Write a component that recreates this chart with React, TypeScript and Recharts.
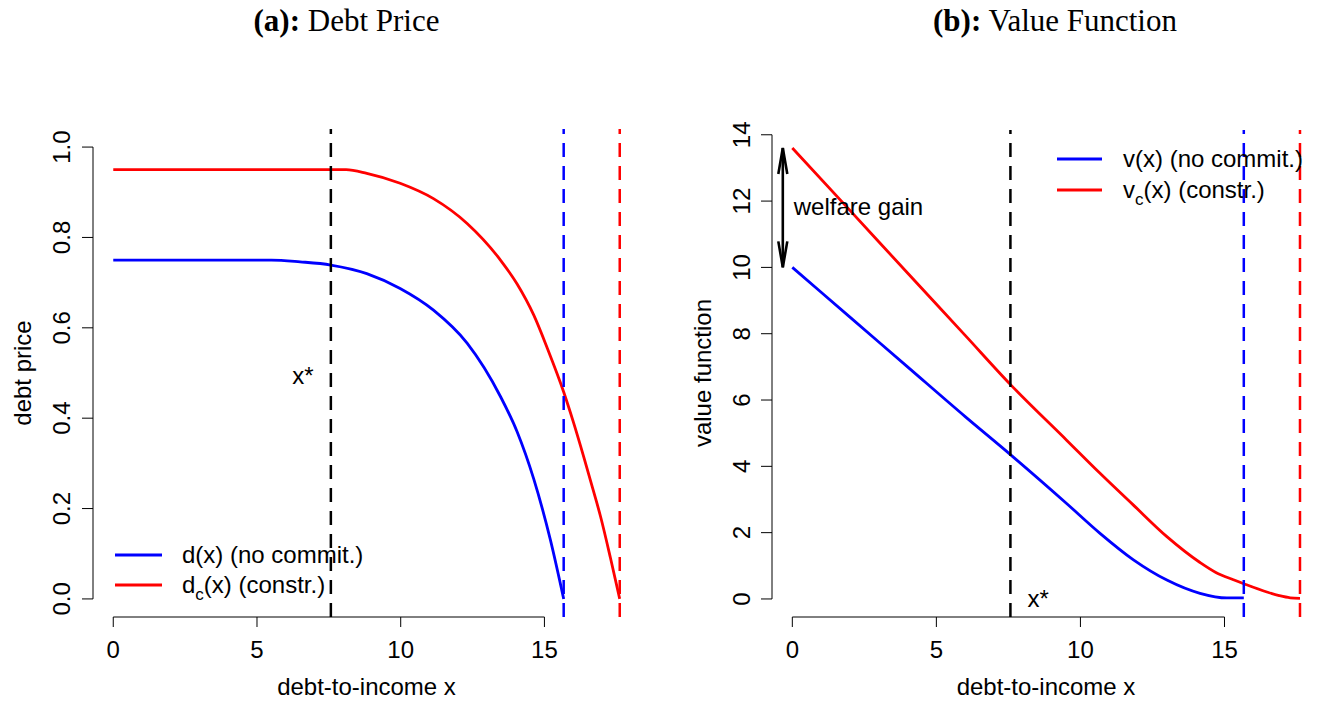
import React from 'react';
import { LineChart, Line, XAxis, YAxis, ReferenceLine, ReferenceDot } from 'recharts';

// ---------- data ----------
const xTicks = [0, 5, 10, 15];
const debtTicks = [0, 0.2, 0.4, 0.6, 0.8, 1.0];
const valueTicks = [0, 2, 4, 6, 8, 10, 12, 14];

const xStar = 7.57;
const xBarNoCommit = 15.67;
const xBarConstr = 17.62;

const debtNoCommitX = [0, 5.5, 6.5, 7.57, 8.82, 9.98, 11.14, 12.31, 13.47, 14.05, 14.63, 15.21, 15.67];
const debtNoCommitY = [0.75, 0.75, 0.746, 0.739, 0.72, 0.687, 0.639, 0.566, 0.448, 0.37, 0.265, 0.13, 0];
const debtConstrX = [0, 8.1, 8.82, 9.98, 11.14, 12.31, 13.47, 14.05, 14.63, 15.1, 15.67, 16.0, 16.37, 16.7, 16.95, 17.3, 17.62];
const debtConstrY = [0.95, 0.95, 0.942, 0.92, 0.886, 0.831, 0.75, 0.697, 0.628, 0.555, 0.458, 0.393, 0.314, 0.24, 0.183, 0.09, 0];

const valueNoCommitX = [0, 2, 4, 6, 7.59, 9.52, 10.68, 11.84, 13.0, 14.15, 15.08, 15.67];
const valueNoCommitY = [10, 8.5, 7.0, 5.5, 4.34, 2.88, 1.98, 1.18, 0.57, 0.17, 0.03, 0.03];
const valueConstrX = [0, 2, 4, 6, 7.59, 9.52, 10.68, 11.84, 13.0, 14.15, 14.7, 15.31, 15.67, 16.47, 16.9, 17.28, 17.62];
const valueConstrY = [13.6, 11.72, 9.83, 7.95, 6.45, 4.79, 3.79, 2.83, 1.88, 1.1, 0.8, 0.58, 0.46, 0.21, 0.1, 0.035, 0.02];

const welfareGainLow = 10;
const welfareGainHigh = 13.6;

const zip = (xs: number[], ys: number[]) => xs.map((x, i) => ({ x, y: ys[i] }));

// ---------- style ----------
const SANS = "'Liberation Sans', Arial, Helvetica, sans-serif";
const SERIF = "'Liberation Serif', 'Times New Roman', serif";
const FS = 24;
const BLUE = '#0000FF';
const RED = '#FF0000';
const X_DOMAIN_L: [number, number] = [-0.705, 18.325];
const X_DOMAIN_R: [number, number] = [-0.705, 18.28];
const DEBT_DOMAIN: [number, number] = [-0.04, 1.04];
const VALUE_DOMAIN: [number, number] = [-0.544, 14.144];

const XTick = (p: any) => (
  <text x={p.x} y={p.y + 29} textAnchor="middle" fontFamily={SANS} fontSize={FS} fill="#000">
    {p.payload.value}
  </text>
);

const makeYTick = (shift: number, fmt: (v: number) => string) => (p: any) => {
  const bx = p.x - shift;
  return (
    <text
      x={bx}
      y={p.y}
      transform={`rotate(-90, ${bx}, ${p.y})`}
      textAnchor="middle"
      fontFamily={SANS}
      fontSize={FS}
      fill="#000"
    >
      {fmt(p.payload.value)}
    </text>
  );
};

const TextMark = (label: string, dy: number, anchor: string) => (p: any) => (
  <text x={p.cx} y={p.cy + dy} textAnchor={anchor} fontFamily={SANS} fontSize={FS} fill="#000">
    {label}
  </text>
);

const DoubleArrow = (p: any) => {
  const x = p.x1;
  const top = Math.min(p.y1, p.y2);
  const bot = Math.max(p.y1, p.y2);
  const L = 26;
  const W = 4.5;
  return (
    <g stroke="#000" strokeWidth={2.6} fill="none">
      <line x1={x} y1={top} x2={x} y2={bot} />
      <polyline points={`${x - W},${top + L} ${x},${top} ${x + W},${top + L}`} />
      <polyline points={`${x - W},${bot - L} ${x},${bot} ${x + W},${bot - L}`} />
    </g>
  );
};

const DASH = '14 9';

const LeftChart = () => (
  <LineChart width={660} height={702} margin={{ top: 129, right: 20, bottom: 25, left: 13 }}>
    <XAxis
      type="number"
      dataKey="x"
      domain={X_DOMAIN_L}
      ticks={xTicks}
      interval={0}
      allowDataOverflow
      axisLine={false}
      tickSize={10}
      stroke="#000"
      tickLine={{ stroke: '#000' }}
      height={60}
      tick={XTick}
    />
    <YAxis
      type="number"
      domain={DEBT_DOMAIN}
      ticks={debtTicks}
      interval={0}
      allowDataOverflow
      axisLine={false}
      tickSize={11}
      stroke="#000"
      tickLine={{ stroke: '#000' }}
      width={80}
      tick={makeYTick(10, (v) => v.toFixed(1))}
    />
    <ReferenceLine segment={[{ x: X_DOMAIN_L[0], y: 0 }, { x: X_DOMAIN_L[0], y: 1 }]} stroke="#000" strokeWidth={1} ifOverflow="visible" />
    <ReferenceLine segment={[{ x: 0, y: DEBT_DOMAIN[0] }, { x: 15, y: DEBT_DOMAIN[0] }]} stroke="#000" strokeWidth={1} ifOverflow="visible" />
    <Line data={zip(debtNoCommitX, debtNoCommitY)} dataKey="y" type="monotone" stroke={BLUE} strokeWidth={2.8} dot={false} isAnimationActive={false} />
    <Line data={zip(debtConstrX, debtConstrY)} dataKey="y" type="monotone" stroke={RED} strokeWidth={2.8} dot={false} isAnimationActive={false} />
    <ReferenceLine x={xStar} stroke="#000" strokeWidth={2.5} strokeDasharray={DASH} />
    <ReferenceLine x={xBarNoCommit} stroke={BLUE} strokeWidth={2.5} strokeDasharray={DASH} />
    <ReferenceLine x={xBarConstr} stroke={RED} strokeWidth={2.5} strokeDasharray={DASH} />
    <ReferenceDot x={6.6} y={0.489} ifOverflow="visible" shape={TextMark('x*', 6, 'middle')} />
  </LineChart>
);

const RightChart = () => (
  <LineChart width={659} height={702} margin={{ top: 130, right: 0, bottom: 25, left: 32 }}>
    <XAxis
      type="number"
      dataKey="x"
      domain={X_DOMAIN_R}
      ticks={xTicks}
      interval={0}
      allowDataOverflow
      axisLine={false}
      tickSize={10}
      stroke="#000"
      tickLine={{ stroke: '#000' }}
      height={60}
      tick={XTick}
    />
    <YAxis
      type="number"
      domain={VALUE_DOMAIN}
      ticks={valueTicks}
      interval={0}
      allowDataOverflow
      axisLine={false}
      tickSize={11}
      stroke="#000"
      tickLine={{ stroke: '#000' }}
      width={80}
      tick={makeYTick(9, (v) => String(v))}
    />
    <ReferenceLine segment={[{ x: X_DOMAIN_R[0], y: 0 }, { x: X_DOMAIN_R[0], y: 14 }]} stroke="#000" strokeWidth={1} ifOverflow="visible" />
    <ReferenceLine segment={[{ x: 0, y: VALUE_DOMAIN[0] }, { x: 15, y: VALUE_DOMAIN[0] }]} stroke="#000" strokeWidth={1} ifOverflow="visible" />
    <Line data={zip(valueNoCommitX, valueNoCommitY)} dataKey="y" type="monotone" stroke={BLUE} strokeWidth={2.8} dot={false} isAnimationActive={false} />
    <Line data={zip(valueConstrX, valueConstrY)} dataKey="y" type="monotone" stroke={RED} strokeWidth={2.8} dot={false} isAnimationActive={false} />
    <ReferenceLine x={xStar} stroke="#000" strokeWidth={2.5} strokeDasharray={DASH} />
    <ReferenceLine x={xBarNoCommit} stroke={BLUE} strokeWidth={2.5} strokeDasharray={DASH} />
    <ReferenceLine x={xBarConstr} stroke={RED} strokeWidth={2.5} strokeDasharray={DASH} />
    <ReferenceLine
      segment={[{ x: -0.33, y: welfareGainLow }, { x: -0.33, y: welfareGainHigh }]}
      ifOverflow="visible"
      shape={DoubleArrow}
    />
    <ReferenceDot x={0.05} y={11.78} ifOverflow="visible" shape={TextMark('welfare gain', 7, 'start')} />
    <ReferenceDot x={8.53} y={-0.03} ifOverflow="visible" shape={TextMark('x*', 7, 'middle')} />
  </LineChart>
);

const Overlay = () => (
  <svg width={1319} height={702} style={{ position: 'absolute', left: 0, top: 0, pointerEvents: 'none' }}>
    {/* titles */}
    <text x={346.5} y={31} textAnchor="middle" fontFamily={SERIF} fontSize={31} fill="#000">
      <tspan fontWeight="bold">(a):</tspan>
      <tspan>{' Debt Price'}</tspan>
    </text>
    <text x={1055} y={31} textAnchor="middle" fontFamily={SERIF} fontSize={31} fill="#000">
      <tspan fontWeight="bold">(b):</tspan>
      <tspan>{' Value Function'}</tspan>
    </text>
    {/* axis titles */}
    <text x={366.5} y={695} textAnchor="middle" fontFamily={SANS} fontSize={FS} fill="#000">debt-to-income x</text>
    <text x={1046} y={695} textAnchor="middle" fontFamily={SANS} fontSize={FS} fill="#000">debt-to-income x</text>
    <text x={30.5} y={373} transform="rotate(-90, 30.5, 373)" textAnchor="middle" fontFamily={SANS} fontSize={FS} fill="#000">debt price</text>
    <text x={711} y={373} transform="rotate(-90, 711, 373)" textAnchor="middle" fontFamily={SANS} fontSize={FS} fill="#000">value function</text>
    {/* left legend */}
    <line x1={115} y1={555} x2={162} y2={555} stroke={BLUE} strokeWidth={2.8} />
    <line x1={115} y1={585} x2={162} y2={585} stroke={RED} strokeWidth={2.8} />
    <text x={182} y={563} fontFamily={SANS} fontSize={FS} fill="#000">d(x) (no commit.)</text>
    <text x={182} y={593} fontFamily={SANS} fontSize={FS} fill="#000">
      <tspan>d</tspan>
      <tspan fontSize={17} dy={7}>c</tspan>
      <tspan dy={-7}>(x) (constr.)</tspan>
    </text>
    {/* right legend */}
    <line x1={1057} y1={159} x2={1102} y2={159} stroke={BLUE} strokeWidth={2.8} />
    <line x1={1057} y1={190} x2={1102} y2={190} stroke={RED} strokeWidth={2.8} />
    <text x={1123} y={167} fontFamily={SANS} fontSize={FS} fill="#000">v(x) (no commit.)</text>
    <text x={1123} y={198} fontFamily={SANS} fontSize={FS} fill="#000">
      <tspan>v</tspan>
      <tspan fontSize={17} dy={7}>c</tspan>
      <tspan dy={-7}>(x) (constr.)</tspan>
    </text>
  </svg>
);

export default function App() {
  return (
    <div style={{ position: 'absolute', left: 0, top: 0, width: 1319, height: 702, overflow: 'hidden', background: '#fff' }}>
      <div style={{ position: 'absolute', left: 0, top: 0 }}>
        <LeftChart />
      </div>
      <div style={{ position: 'absolute', left: 660, top: 0 }}>
        <RightChart />
      </div>
      <Overlay />
    </div>
  );
}
